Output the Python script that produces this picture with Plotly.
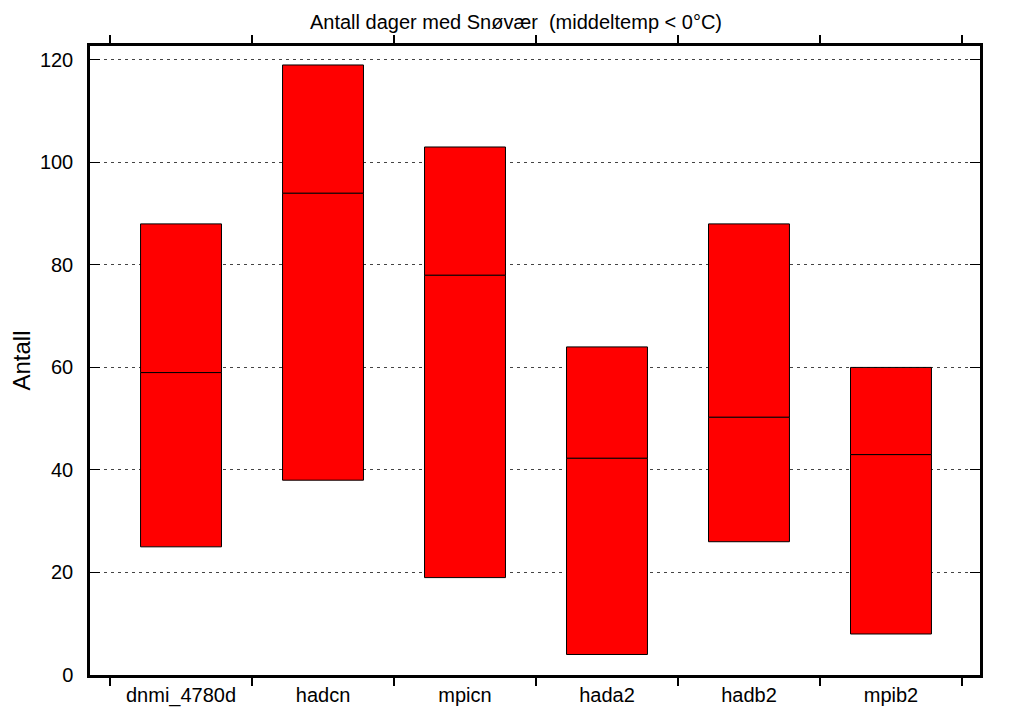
import plotly.graph_objects as go

models = ["dnmi_4780d", "hadcn", "mpicn", "hada2", "hadb2", "mpib2"]
low = [25, 38, 19, 4, 26, 8]
median = [59, 94, 78, 42.3, 50.3, 43]
high = [88, 119, 103, 64, 88, 60]


def main():
    font = dict(family="Liberation Sans, Arial, sans-serif", size=20, color="black")

    fig = go.Figure()
    fig.add_trace(go.Bar(
        x=models, base=low, y=[m - l for m, l in zip(median, low)],
        marker=dict(color="red", line=dict(color="black", width=1)),
        width=0.57, showlegend=False, hoverinfo="skip",
    ))
    fig.add_trace(go.Bar(
        x=models, base=median, y=[h - m for h, m in zip(high, median)],
        marker=dict(color="red", line=dict(color="black", width=1)),
        width=0.57, showlegend=False, hoverinfo="skip",
    ))

    # page has an 8px body margin, so the figure is a bit smaller than the window
    fig.update_layout(
        width=1016, height=706, barmode="overlay",
        margin=dict(l=82, r=44, t=38, b=39),
        paper_bgcolor="white", plot_bgcolor="white", font=font,
        title=dict(text="Antall dager med Snøvær  (middeltemp < 0\u00b0C)",
                   x=0.5, xanchor="center", y=0.980, yanchor="middle",
                   font=dict(size=20)),
    )
    fig.update_xaxes(
        type="category", range=[-0.641, 5.627], tickson="boundaries",
        ticks="outside", ticklen=8, tickwidth=1.5, tickcolor="black",
        showline=True, linewidth=2.5, linecolor="black", mirror="ticks",
        showgrid=False, zeroline=False, automargin=False,
    )
    fig.update_yaxes(
        range=[0, 122.7], tickvals=[0, 20, 40, 60, 80, 100, 120],
        ticks="inside", ticklen=10, tickwidth=1, tickcolor="black",
        ticklabelstandoff=10,
        showline=True, linewidth=2.5, linecolor="black", mirror="ticks",
        showgrid=True, gridcolor="#444444", gridwidth=1, griddash="3px,4px",
        zeroline=False, automargin=False, title=dict(text="Antall", standoff=16),
    )
    fig.write_html("out.html")


if __name__ == "__main__":
    main()
